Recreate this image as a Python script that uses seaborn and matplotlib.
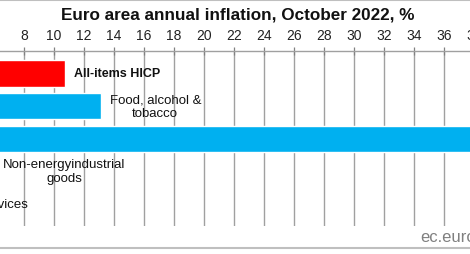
import matplotlib
matplotlib.use("Agg")
import matplotlib.pyplot as plt
from matplotlib.lines import Line2D
import seaborn as sns
import pandas as pd

categories = ["All-items HICP", "Food, alcohol &\ntobacco", "Energy",
              "Non-energyindustrial\ngoods", "Services"]
values = [10.7, 13.1, 41.9, 6.0, 4.3]
bar_colors = ["#FF0000", "#00B0F0", "#00B0F0", "#00B0F0", "#00B0F0"]
label_bold = [True, False, False, False, False]
xticks = list(range(0, 46, 2))
title = "Euro area annual inflation, October 2022, %"
source = "ec.europa.eu"

sns.set_theme(style="white")
plt.rcParams["font.family"] = ["Liberation Sans", "DejaVu Sans"]

df = pd.DataFrame({"category": categories, "value": values})

fig = plt.figure(figsize=(4.7, 2.55), dpi=100)
W, H = 470, 255
# axes region in pixels: x=0 value at -96px, 15 px per unit; y from 52 to 227
left_px, ppu = -96, 15.0
xmax = 45
ax = fig.add_axes([left_px / W, (H - 227) / H, xmax * ppu / W, (227 - 52.3) / H])

sns.barplot(data=df, y="category", x="value", hue="category",
            palette=dict(zip(categories, bar_colors)), orient="h",
            width=0.8, legend=False, ax=ax, saturation=1)

ax.set_xlim(0, xmax)
ax.set_ylim(4.68, -0.68)
ax.set_xticks(xticks)
ax.xaxis.tick_top()
ax.tick_params(axis="x", direction="inout", length=6, width=0.9, color="#808080",
               labelsize=10, pad=3.5, labelcolor="#222222", top=True, bottom=False)
ax.set_yticks([])
ax.set_xlabel("")
ax.set_ylabel("")
ax.set_axisbelow(True)
ax.grid(axis="x", color="#A0A0A0", linewidth=1.0)
for s in ["left", "right", "bottom"]:
    ax.spines[s].set_visible(False)
ax.spines["top"].set_color("#A0A0A0")
ax.spines["top"].set_linewidth(1.0)

for i, (cat, v) in enumerate(zip(categories, values)):
    ax.annotate(cat, xy=(v, i), xytext=(6.5, 0), textcoords="offset points",
                ha="left", va="center", multialignment="center",
                fontsize=9.0 if label_bold[i] else 9.5,
                fontweight="bold" if label_bold[i] else "normal",
                color="#111111", annotation_clip=False)

fig.text(237.5 / W, 1 - 15.5 / H, title, ha="center", va="center",
         fontsize=12.3, fontweight="bold", color="#111111")
fig.text(420 / W, 1 - 238 / H, source, ha="left", va="center",
         fontsize=12, color="#808080")

fig.add_artist(Line2D([0, 1], [1 - 1 / H, 1 - 1 / H], color="#BFBFBF", linewidth=1.5,
                      transform=fig.transFigure))
fig.add_artist(Line2D([0, 1], [1 - 249 / H, 1 - 249 / H], color="#BFBFBF", linewidth=1.5,
                      transform=fig.transFigure))

fig.savefig("out.png", dpi=100)
